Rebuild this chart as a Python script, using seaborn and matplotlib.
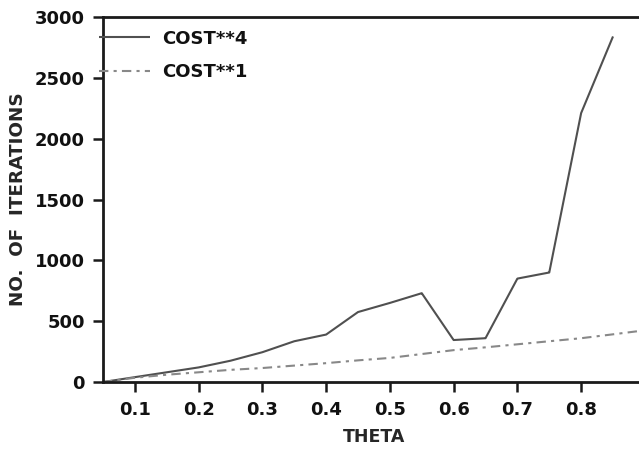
import matplotlib
matplotlib.use("Agg")
import matplotlib.pyplot as plt
import seaborn as sns
import pandas as pd

# Iteration counts versus theta for two cost exponents
theta_cost4 = [0.05, 0.10, 0.15, 0.20, 0.25, 0.30, 0.35, 0.40, 0.45,
               0.50, 0.55, 0.60, 0.65, 0.70, 0.75, 0.80, 0.85]
iters_cost4 = [0, 40, 80, 120, 175, 245, 335, 390, 575,
               650, 730, 345, 360, 850, 900, 2210, 2840]

theta_cost1 = [0.05, 0.10, 0.15, 0.20, 0.25, 0.30, 0.35, 0.40, 0.45,
               0.50, 0.55, 0.60, 0.65, 0.70, 0.75, 0.80, 0.85, 0.90]
iters_cost1 = [0, 35, 60, 80, 100, 115, 135, 155, 178,
               198, 230, 262, 285, 310, 335, 360, 392, 425]

series_names = ["COST**4", "COST**1"]
x_ticks = [0.1, 0.2, 0.3, 0.4, 0.5, 0.6, 0.7, 0.8]
y_ticks = [0, 500, 1000, 1500, 2000, 2500, 3000]

df = pd.concat([
    pd.DataFrame({"theta": theta_cost4, "iters": iters_cost4, "series": series_names[0]}),
    pd.DataFrame({"theta": theta_cost1, "iters": iters_cost1, "series": series_names[1]}),
])

sns.set_style("ticks")
plt.rcParams["font.family"] = ["DejaVu Sans"]
plt.rcParams["font.weight"] = "bold"

fig = plt.figure(figsize=(6.39, 4.53), dpi=100)
ax = fig.add_axes([0.1612, 0.1567, 0.848, 0.8058])

sns.lineplot(data=df, x="theta", y="iters", hue="series", style="series",
             palette=["#505050", "#888888"],
             dashes=[(1, 0), (4.5, 2.5, 1.5, 2.5)],
             linewidth=1.5, ax=ax, sort=False)

ax.set_xlim(0.05, 0.9)
ax.set_ylim(0, 3000)
ax.set_xticks(x_ticks)
ax.set_xticklabels([f"{t:.1f}" for t in x_ticks])
ax.set_yticks(y_ticks)
ax.set_yticklabels([str(v) for v in y_ticks])

for side in ["left", "bottom", "top", "right"]:
    ax.spines[side].set_linewidth(2.0)
    ax.spines[side].set_color("#1a1a1a")

ax.tick_params(axis="both", direction="out", length=7, width=1.8,
               labelsize=13, color="#1a1a1a", labelcolor="#111111")
ax.tick_params(axis="x", pad=7)
ax.tick_params(axis="y", pad=6)

ax.set_xlabel("THETA", fontsize=12.5, fontweight="bold", labelpad=6)
ax.set_ylabel("NO.  OF  ITERATIONS", fontsize=13.2, fontweight="bold", labelpad=6)

leg = ax.legend(loc="upper left", frameon=False, fontsize=13,
                handlelength=2.8, handletextpad=0.7, labelspacing=0.85,
                borderaxespad=0.0, borderpad=0.7,
                bbox_to_anchor=(-0.03, 1.0))
for txt in leg.get_texts():
    txt.set_color("#111111")
    txt.set_fontweight("bold")

fig.savefig("out.png", dpi=100)
